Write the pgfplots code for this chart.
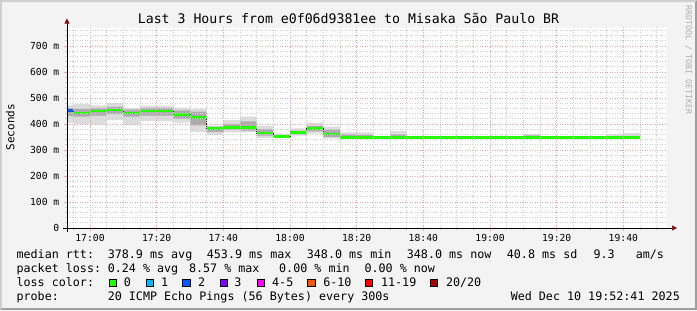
\documentclass[border=0pt]{standalone}
\usepackage{fontspec}
\setmainfont{DejaVu Sans Mono}
\usepackage{pgfplots}
\pgfplotsset{compat=1.18}
\usepgfplotslibrary{fillbetween}
\usepackage{pgfplotstable}
\usetikzlibrary{arrows.meta}

\definecolor{bg}{HTML}{F3F3F3}
\definecolor{shadeA}{HTML}{CFCFCF}
\definecolor{shadeB}{HTML}{9E9E9E}
\definecolor{gridc}{HTML}{D0D0D0}
\definecolor{mgridc}{HTML}{EBA8A8}
\definecolor{arrowc}{HTML}{7F1010}
\definecolor{smokeA}{HTML}{DCDCDC}
\definecolor{smokeB}{HTML}{ACACAC}
\definecolor{wm}{HTML}{B0B0B0}
\definecolor{lc0}{HTML}{26FF00}
\definecolor{lc1}{HTML}{00B8FF}
\definecolor{lc2}{HTML}{0059FF}
\definecolor{lc3}{HTML}{7E00FF}
\definecolor{lc4}{HTML}{FF00FF}
\definecolor{lc6}{HTML}{FF5500}
\definecolor{lc11}{HTML}{FF0000}
\definecolor{lc20}{HTML}{A10000}

\newcommand{\fs}[1]{\fontsize{#1bp}{#1bp}\selectfont}

% x = minutes after 16:00; med = median rtt (ms); olo/ohi = outer smoke; ilo/ihi = inner smoke
\pgfplotstableread{
x med olo ohi ilo ihi
53.1 453 405 473 430 462
55 442 399 476 428 458
60 450 398 472 432 462
65 454 415 480 438 466
70 442 396 462 428 455
75 450 412 470 432 462
80 450 410 470 432 462
85 436 405 463 420 452
90 426 370 458 395 448
95 382 358 393 370 390
100 387 368 415 378 400
105 387 368 428 375 410
110 365 347 393 355 380
115 351 346 362 348 357
120 367 355 383 360 375
125 383 364 403 372 392
130 361 345 390 350 378
135 349 345 368 347 360
140 348 346 368 347 358
145 348 348 348 348 348
150 348 346 373 347 360
155 348 348 348 348 348
160 348 348 348 348 348
165 348 348 348 348 348
170 348 348 348 348 348
175 348 348 348 348 348
180 348 348 355 348 350
185 348 348 348 348 348
190 348 347 361 348 356
195 348 348 348 348 348
200 348 348 348 348 348
205 348 348 348 348 348
210 348 348 348 348 348
215 348 348 361 348 352
220 348 348 365 348 354
225 348 348 365 348 354
}\smoke

\tikzset{px/.style={x=1bp, y=-1bp, shift={(-67bp,228bp)}}}

\begin{document}
\begin{tikzpicture}
\begin{scope}[px]
  \fill[bg] (0,0) rectangle (697,310);
  \fill[shadeA] (0,0) -- (697,0) -- (695,2) -- (2,2) -- (2,308) -- (0,310) -- cycle;
  \fill[shadeB] (697,0) -- (697,310) -- (0,310) -- (2,308) -- (695,308) -- (695,2) -- cycle;
  \fill[white] (67,26.5) rectangle (667,228);
\end{scope}
\begin{axis}[
  at={(0,0)}, anchor=south west,
  scale only axis, width=600bp, height=201.5bp,
  xmin=53.1, xmax=233.1, ymin=0, ymax=775,
  axis on top,
  axis x line=bottom, axis y line=left,
  axis line style={black, line width=0.7bp},
  x axis line style={shorten <=-4bp, shorten >=-10bp, -{Triangle[length=5bp,width=5bp,color=arrowc]}},
  y axis line style={shorten <=-4bp, shorten >=-8bp, -{Triangle[length=5bp,width=5bp,color=arrowc]}},
  xtick={60,80,...,220},
  xticklabels={17:00,17:20,17:40,18:00,18:20,18:40,19:00,19:20,19:40},
  minor xtick={55,60,...,230},
  ytick={0,100,...,700},
  yticklabels={0,100 m,200 m,300 m,400 m,500 m,600 m,700 m},
  minor ytick={20,40,...,760},
  grid=both,
  major grid style={mgridc, dash pattern=on 1bp off 1.5bp, line width=0.7bp},
  minor grid style={gridc, dash pattern=on 1bp off 1.5bp, line width=0.7bp},
  tick align=outside,
  major tick length=3bp, minor tick length=2bp,
  major tick style={mgridc, line width=0.7bp},
  minor tick style={gridc, line width=0.7bp},
  xticklabel style={font=\fs{9.7}, inner sep=0pt, anchor=north, yshift=-3bp},
  yticklabel style={font=\fs{9.7}, inner sep=0pt, anchor=east, xshift=-4.5bp},
  fill between/on layer=main,
]
  \addplot[draw=none, name path=ohi, const plot] table[x=x, y=ohi] {\smoke};
  \addplot[draw=none, name path=olo, const plot] table[x=x, y=olo] {\smoke};
  \addplot[draw=none, name path=ihi, const plot] table[x=x, y=ihi] {\smoke};
  \addplot[draw=none, name path=ilo, const plot] table[x=x, y=ilo] {\smoke};
  \addplot[smokeA, draw=none] fill between[of=ohi and olo];
  \addplot[smokeB, draw=none] fill between[of=ihi and ilo];
  \addplot[black!85, line width=0.8bp, const plot, mark=none] table[x=x, y=med] {\smoke};
  \addplot[lc2, line width=2.6bp, jump mark left, mark=none] coordinates {(53.1,453) (55,453)};
  \addplot[lc0, line width=2.6bp, jump mark left, mark=none, skip coords between index={0}{1}] table[x=x, y=med] {\smoke};
\end{axis}
\begin{scope}[px]
  \node[anchor=base, inner sep=0pt, font=\fs{13.2}] at (348.5,23.5) {Last 3 Hours from e0f06d9381ee to Misaka São Paulo BR};
  \node[rotate=-90, inner sep=0pt, font=\fs{8.3}, text=wm] at (688.5,60) {RRDTOOL / TOBI OETIKER};
  \node[rotate=90, inner sep=0pt, font=\fs{11}] at (10.3,127.3) {Seconds};
  \begin{scope}[every node/.style={anchor=base west, inner sep=0pt, font=\fs{11.7}}]
    \node at (16.4,258.5) {median rtt:};
    \node at (107.6,258.5) {378.9 ms avg};
    \node at (206.7,258.5) {453.9 ms max};
    \node at (306.7,258.5) {348.0 ms min};
    \node at (406.7,258.5) {348.0 ms now};
    \node at (506.7,258.5) {40.8 ms sd};
    \node at (593.3,258.5) {9.3};
    \node at (635.6,258.5) {am/s};
    \node at (16.4,272.5) {packet loss:};
    \node at (107.6,272.5) {0.24 \% avg};
    \node at (188.9,272.5) {8.57 \% max};
    \node at (279,272.5) {0.00 \% min};
    \node at (364.4,272.5) {0.00 \% now};
    \node at (16.4,286.5) {loss color:};
    \node at (123.6,286.5) {0};
    \node at (160.9,286.5) {1};
    \node at (197.8,286.5) {2};
    \node at (234.2,286.5) {3};
    \node at (272,286.5) {4-5};
    \node at (323.1,286.5) {6-10};
    \node at (380.9,286.5) {11-19};
    \node at (445.8,286.5) {20/20};
    \node at (16.4,300.5) {probe:};
    \node at (107.6,300.5) {20 ICMP Echo Pings (56 Bytes) every 300s};
    \node[anchor=base east] at (680,300.5) {Wed Dec 10 19:52:41 2025};
  \end{scope}
  \begin{scope}[line width=0.8bp, draw=black]
    \filldraw[fill=lc0]  (109,279) rectangle (116.5,286.5);
    \filldraw[fill=lc1]  (146,279) rectangle (153.5,286.5);
    \filldraw[fill=lc2]  (182.5,279) rectangle (190,286.5);
    \filldraw[fill=lc3]  (220,279) rectangle (227.5,286.5);
    \filldraw[fill=lc4]  (257,279) rectangle (264.5,286.5);
    \filldraw[fill=lc6]  (307.6,279) rectangle (315.1,286.5);
    \filldraw[fill=lc11] (365.3,279) rectangle (372.8,286.5);
    \filldraw[fill=lc20] (430,279) rectangle (437.5,286.5);
  \end{scope}
\end{scope}
\end{tikzpicture}
\end{document}
